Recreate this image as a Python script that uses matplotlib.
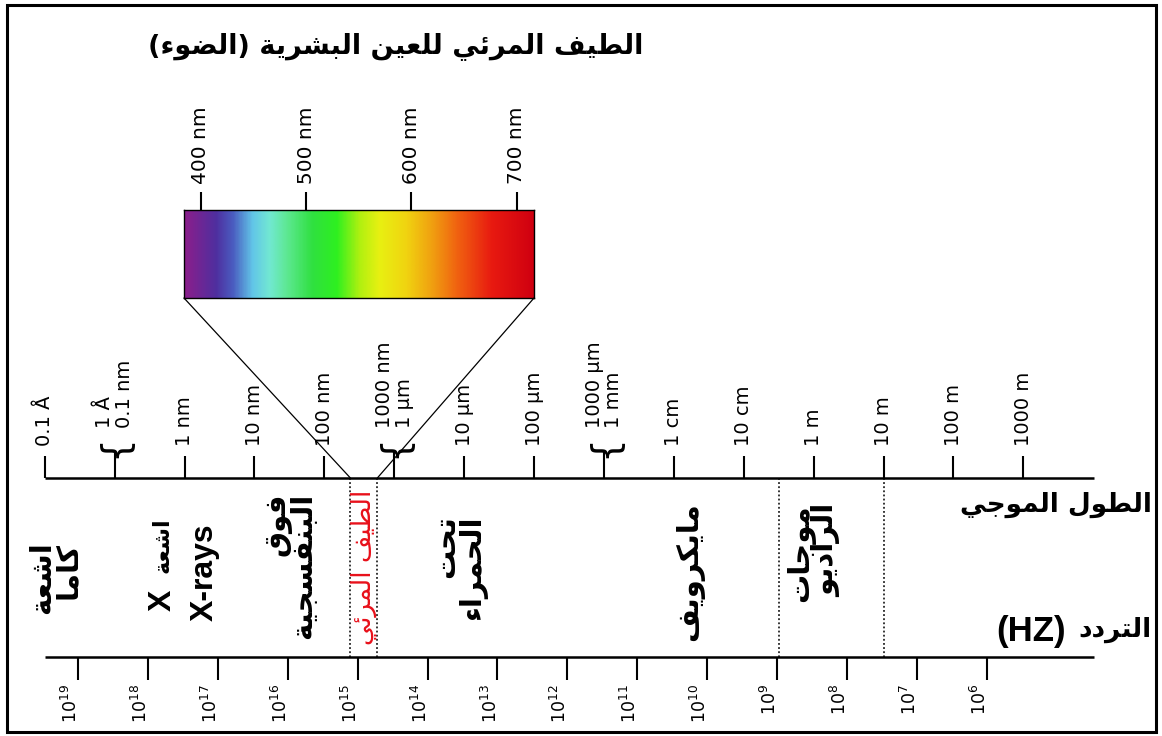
import matplotlib
matplotlib.use('Agg')
import matplotlib.pyplot as plt
import numpy as np
from matplotlib.colors import LinearSegmentedColormap
from matplotlib.patches import ConnectionPatch, Rectangle

plt.rcParams['font.family'] = ['DejaVu Sans']

# ---- data -------------------------------------------------------------
# wavelength scale (metres) with its tick labels
WL_TICKS = [1e-11, 1e-10, 1e-9, 1e-8, 1e-7, 1e-6, 1e-5, 1e-4, 1e-3,
            1e-2, 1e-1, 1.0, 10.0, 100.0, 1000.0]
WL_LABELS = ['0.1 Å', '1 Å\n0.1 nm', '1 nm', '10 nm', '100 nm',
             '1000 nm\n1 µm', '10 µm', '100 µm', '1000 µm\n1 mm',
             '1 cm', '10 cm', '1 m', '10 m', '100 m', '1000 m']
WL_BRACED = [1e-10, 1e-6, 1e-3]
AXIS_END = 1.03e4            # right end of both scale lines (m)

# frequency scale (Hz exponents), placed at lambda = c / f
FREQ_EXP = [19, 18, 17, 16, 15, 14, 13, 12, 11, 10, 9, 8, 7, 6]
C_LIGHT = 3e8

# band borders (m): visible strip, microwave / radio, radio end
VISIBLE_BAND = [2.36e-7, 5.73e-7]
DIVIDERS = [0.32, 10.0]

# band names and the wavelength where each name sits
BAND_NAMES = ['اشعة\nكاما', 'فوق\nالبنفسجية', 'تحت\nالحمراء',
              'مايكرويف', 'موجات\nالراديو']
BAND_POS = [1.4e-11, 3.3e-8, 8.7e-6, 1.7e-2, 1.0]
BAND_Y = [578, 566, 568, 572, 553]
XRAY_AR = 'اشعة'
XRAY_POS = 4.8e-10
XRAYS_EN = 'X-rays'
XRAYS_POS = 1.96e-9
VISIBLE_NAME = 'الطيف المرئي'

# visible spectrum (nm) and its colour stops
VIS_RANGE = [384.1, 716.4]
VIS_TICKS = [400, 500, 600, 700]
VIS_STOPS = [384.1, 414, 430, 449, 465, 481, 506, 529, 551, 570, 595, 620, 645, 677, 716.4]
VIS_COLORS = ['#8b1e8b', '#4f2f9f', '#4a5cc0', '#62c6e8', '#72e8d2', '#5ee894',
              '#30e040', '#2ef020', '#b0f010', '#e8f012', '#f0d410', '#f0a010',
              '#f06010', '#e81a10', '#d00010']

TITLE = 'الطيف المرئي للعين البشرية (الضوء)'
WL_NAME = 'الطول الموجي'
FREQ_NAME = 'التردد'
FREQ_UNIT = '(HZ)'

# ---- minimal arabic shaping (presentation forms + visual order) ---------
FORMS = {
    'ء': ('\ufe80', None, None, None),
    'ا': ('\ufe8d', '\ufe8e', None, None),
    'ئ': ('\ufe89', '\ufe8a', '\ufe8b', '\ufe8c'),
    'ب': ('\ufe8f', '\ufe90', '\ufe91', '\ufe92'),
    'ة': ('\ufe93', '\ufe94', None, None),
    'ت': ('\ufe95', '\ufe96', '\ufe97', '\ufe98'),
    'ج': ('\ufe9d', '\ufe9e', '\ufe9f', '\ufea0'),
    'ح': ('\ufea1', '\ufea2', '\ufea3', '\ufea4'),
    'د': ('\ufea9', '\ufeaa', None, None),
    'ر': ('\ufead', '\ufeae', None, None),
    'س': ('\ufeb1', '\ufeb2', '\ufeb3', '\ufeb4'),
    'ش': ('\ufeb5', '\ufeb6', '\ufeb7', '\ufeb8'),
    'ض': ('\ufebd', '\ufebe', '\ufebf', '\ufec0'),
    'ط': ('\ufec1', '\ufec2', '\ufec3', '\ufec4'),
    'ع': ('\ufec9', '\ufeca', '\ufecb', '\ufecc'),
    'ف': ('\ufed1', '\ufed2', '\ufed3', '\ufed4'),
    'ق': ('\ufed5', '\ufed6', '\ufed7', '\ufed8'),
    'ك': ('\ufed9', '\ufeda', '\ufedb', '\ufedc'),
    'ل': ('\ufedd', '\ufede', '\ufedf', '\ufee0'),
    'م': ('\ufee1', '\ufee2', '\ufee3', '\ufee4'),
    'ن': ('\ufee5', '\ufee6', '\ufee7', '\ufee8'),
    'و': ('\ufeed', '\ufeee', None, None),
    'ي': ('\ufef1', '\ufef2', '\ufef3', '\ufef4'),
}
MIRROR = {'(': ')', ')': '('}


def shape_line(s):
    out = []
    for i, ch in enumerate(s):
        f = FORMS.get(ch)
        if f is None:
            out.append(ch)
            continue
        prev = s[i - 1] if i > 0 else ''
        nxt = s[i + 1] if i + 1 < len(s) else ''
        jp = prev in FORMS and FORMS[prev][2] is not None
        jn = f[2] is not None and nxt in FORMS and FORMS[nxt][1] is not None
        if jp and jn:
            out.append(f[3])
        elif jp:
            out.append(f[1])
        elif jn:
            out.append(f[2])
        else:
            out.append(f[0])
    return ''.join(MIRROR.get(c, c) for c in reversed(out))


def ar(s):
    return '\n'.join(shape_line(line) for line in s.split('\n'))


# ---- figure -------------------------------------------------------------
W, H = 1162, 736
fig = plt.figure(figsize=(W / 100, H / 100), dpi=100)
ax = fig.add_axes([0, 0, 1, 1])
ax.set_xscale('log')
ax.set_xlim(10 ** -11.64, 10 ** 4.984)
ax.set_ylim(H, 0)
ax.axis('off')

Y_WL = 478
Y_FR = 657

# wavelength scale
ax.plot([WL_TICKS[0], AXIS_END], [Y_WL, Y_WL], color='black', lw=1.8, solid_capstyle='butt')
for x, lab in zip(WL_TICKS, WL_LABELS):
    braced = x in WL_BRACED
    ax.vlines(x, 452 if braced else 456, Y_WL, color='black', lw=1.5)
    if braced:
        ax.text(x, 446, '{', rotation=90, ha='center', va='center',
                fontsize=27)
    ax.text(x, 428 if braced else 446, lab, rotation=90, ha='center', va='bottom',
            multialignment='left', fontsize=14, linespacing=1.05)

# frequency scale
ax.plot([WL_TICKS[0], AXIS_END], [Y_FR, Y_FR], color='black', lw=1.8, solid_capstyle='butt')
for e in FREQ_EXP:
    x = C_LIGHT / 10.0 ** e
    ax.vlines(x, Y_FR, 680, color='black', lw=1.5)
    ax.annotate('10$^{%d}$' % e, (x, 684), xytext=(-5, 0), textcoords='offset points',
                rotation=90, ha='center', va='top', fontsize=12.5)

# band dividers
ax.vlines(VISIBLE_BAND + DIVIDERS, Y_WL, Y_FR, color='black', lw=1.1,
          linestyles=(0, (1.2, 1.5)))

# band names
for x, y, name in zip(BAND_POS, BAND_Y, BAND_NAMES):
    ax.text(x, y, ar(name), rotation=90, ha='center', va='center',
            multialignment='right', fontsize=21, fontweight='bold', linespacing=0.9)
ax.text(XRAY_POS, 545, ar(XRAY_AR), rotation=90, ha='center', va='center',
        fontsize=16, fontweight='bold')
ax.text(XRAY_POS, 600, 'X', rotation=90, ha='center', va='center',
        fontsize=23, fontweight='bold', family='Liberation Sans')
ax.text(XRAYS_POS, 572, XRAYS_EN, rotation=90, ha='center', va='center',
        fontsize=23, fontweight='bold', family='Liberation Sans')
ax.text(np.sqrt(VISIBLE_BAND[0] * VISIBLE_BAND[1]), 567, ar(VISIBLE_NAME), rotation=90,
        ha='center', va='center', fontsize=19, color='#e8101a')

# visible spectrum bar
bax = fig.add_axes([184 / W, 1 - 298 / H, 350 / W, 88 / H])
cmap = LinearSegmentedColormap.from_list(
    'visible', list(zip((np.array(VIS_STOPS) - VIS_RANGE[0]) / (VIS_RANGE[1] - VIS_RANGE[0]),
                        VIS_COLORS)))
grad = np.linspace(VIS_RANGE[0], VIS_RANGE[1], 600)[None, :]
bax.imshow(grad, extent=[VIS_RANGE[0], VIS_RANGE[1], 0, 1], aspect='auto', cmap=cmap,
           vmin=VIS_RANGE[0], vmax=VIS_RANGE[1])
bax.set_xlim(VIS_RANGE)
bax.set_ylim(0, 1)
bax.xaxis.tick_top()
bax.set_xticks(VIS_TICKS)
bax.set_xticklabels(['%d nm' % v for v in VIS_TICKS], rotation=90)
bax.set_yticks([])
bax.tick_params(axis='x', length=13, width=1.5, pad=6, labelsize=14.5)
for sp in bax.spines.values():
    sp.set_linewidth(1.0)

# zoom lines from the bar down to the visible strip
for xa, xb in zip(VIS_RANGE, VISIBLE_BAND):
    fig.add_artist(ConnectionPatch(xyA=(xa, 0), coordsA=bax.transData,
                                   xyB=(xb, Y_WL), coordsB=ax.transData,
                                   color='black', lw=0.9))

# titles
fig.text(396 / W, 1 - 46 / H, ar(TITLE), ha='center', va='center',
         fontsize=19.5, fontweight='bold')
fig.text(1152 / W, 1 - 505 / H, ar(WL_NAME), ha='right', va='center',
         fontsize=19, fontweight='bold')
fig.text(1152 / W, 1 - 630 / H, ar(FREQ_NAME), ha='right', va='center',
         fontsize=19, fontweight='bold')
fig.text(1066 / W, 1 - 632 / H, FREQ_UNIT, ha='right', va='center',
         fontsize=25, fontweight='bold', family='Liberation Sans')

# outer frame
fig.add_artist(Rectangle((7 / W, 1 - 732 / H), 1149 / W, 727 / H, transform=fig.transFigure,
                         fill=False, lw=2.2, edgecolor='black'))

fig.savefig('out.png', dpi=100)
